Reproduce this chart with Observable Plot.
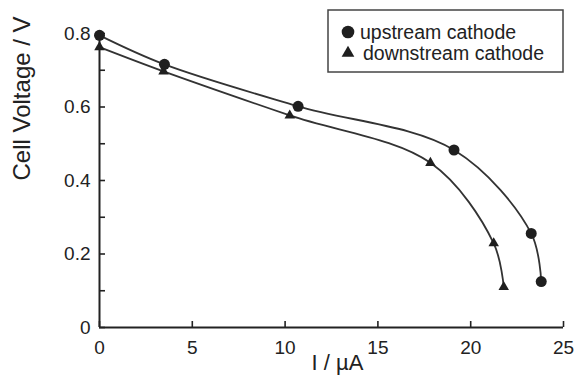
<!DOCTYPE html>
<html>
<head>
<meta charset="utf-8">
<script src="https://cdn.jsdelivr.net/npm/d3@7"></script>
<script src="https://cdn.jsdelivr.net/npm/@observablehq/plot@0.6"></script>
<style>
  html, body { margin: 0; padding: 0; background: #fff; }
  #chart { width: 576px; height: 391px; }
</style>
</head>
<body>
<div id="chart"></div>
<script>
// Polarisation curves: cell voltage against current for two cathode positions
const seriesNames = ["upstream cathode", "downstream cathode"];

const currentUp = [0, 3.5, 10.7, 19.1, 23.26, 23.8];          // µA
const voltageUp = [0.795, 0.716, 0.602, 0.483, 0.256, 0.125];   // V

const currentDown = [0, 3.45, 10.25, 17.83, 21.24, 21.78];      // µA
const voltageDown = [0.763, 0.697, 0.577, 0.448, 0.229, 0.110]; // V

const xTicks = [0, 5, 10, 15, 20, 25];
const xTickLabels = ["0", "5", "10", "15", "20", "25"];
const yTicks = [0, 0.2, 0.4, 0.6, 0.8];
const yTickLabels = ["0", "0.2", "0.4", "0.6", "0.8"];
const yTicksAll = [0, 0.1, 0.2, 0.3, 0.4, 0.5, 0.6, 0.7, 0.8];

const xLabel = "I / µA";
const yLabel = "Cell Voltage / V";

const upstream = currentUp.map((x, i) => ({x, y: voltageUp[i]}));
const downstream = currentDown.map((x, i) => ({x, y: voltageDown[i]}));

const ink = "#222";

const svg = Plot.plot({
  width: 576,
  height: 391,
  marginLeft: 99,
  marginRight: 13,
  marginTop: 33,
  marginBottom: 64,
  style: {fontFamily: "'Liberation Sans', Arial, sans-serif", fontSize: "19px", color: ink, background: "#fff"},
  x: {domain: [0, 25]},
  y: {domain: [0, 0.8]},
  marks: [
    // tick labels
    Plot.axisY(yTicks, {tickSize: 0, tickPadding: 9, label: null, fontSize: 19,
      tickFormat: d => yTickLabels[yTicks.indexOf(d)]}),
    Plot.axisX(xTicks, {tickSize: 0, tickPadding: 13, label: null, fontSize: 19,
      tickFormat: d => xTickLabels[xTicks.indexOf(d)]}),
    // inward tick marks
    Plot.axisY(yTicksAll, {tickSize: 6, dx: 6, label: null, tickFormat: () => "", stroke: ink, strokeWidth: 1.6}),
    Plot.axisX(xTicks, {tickSize: 6, dy: -6, label: null, tickFormat: () => "", stroke: ink, strokeWidth: 1.6}),
    // axis lines
    Plot.ruleX([0], {stroke: ink, strokeWidth: 2}),
    Plot.ruleY([0], {stroke: ink, strokeWidth: 2}),
    // axis titles
    Plot.text([yLabel], {frameAnchor: "left", rotate: -90, dx: -77, fontSize: 24, fill: ink}),
    Plot.text([xLabel], {frameAnchor: "bottom", dy: 42, dx: 6, fontSize: 22, fill: ink}),
    // curves
    Plot.line(upstream, {x: "x", y: "y", curve: "catmull-rom", stroke: "#333", strokeWidth: 1.8}),
    Plot.line(downstream, {x: "x", y: "y", curve: "catmull-rom", stroke: "#333", strokeWidth: 1.8}),
    Plot.dot(upstream, {x: "x", y: "y", r: 5.5, symbol: "circle", fill: "#1f1f1f", clip: false}),
    Plot.dot(downstream, {x: "x", y: "y", r: 3.9, symbol: "triangle", fill: "#1f1f1f", clip: false})
  ]
});

// boxed legend in the upper right corner
const root = d3.select(svg);
const lg = root.append("g").attr("transform", "translate(328,10)");
lg.append("rect")
  .attr("x", 0).attr("y", 0).attr("width", 235).attr("height", 62)
  .attr("fill", "#fff").attr("stroke", "#444").attr("stroke-width", 1.5);
const symbols = [d3.symbolCircle, d3.symbolTriangle];
const sizes = [125, 70];
seriesNames.forEach((name, i) => {
  const cy = 22 + i * 21;
  lg.append("path")
    .attr("d", d3.symbol(symbols[i], sizes[i])())
    .attr("transform", `translate(20,${cy})`)
    .attr("fill", "#1f1f1f");
  lg.append("text")
    .attr("x", 32 + i * 3).attr("y", cy)
    .attr("dy", "0.35em")
    .attr("text-anchor", "start")
    .attr("font-size", 19.5)
    .attr("fill", ink)
    .text(name);
});

document.getElementById("chart").appendChild(svg);
</script>
</body>
</html>
